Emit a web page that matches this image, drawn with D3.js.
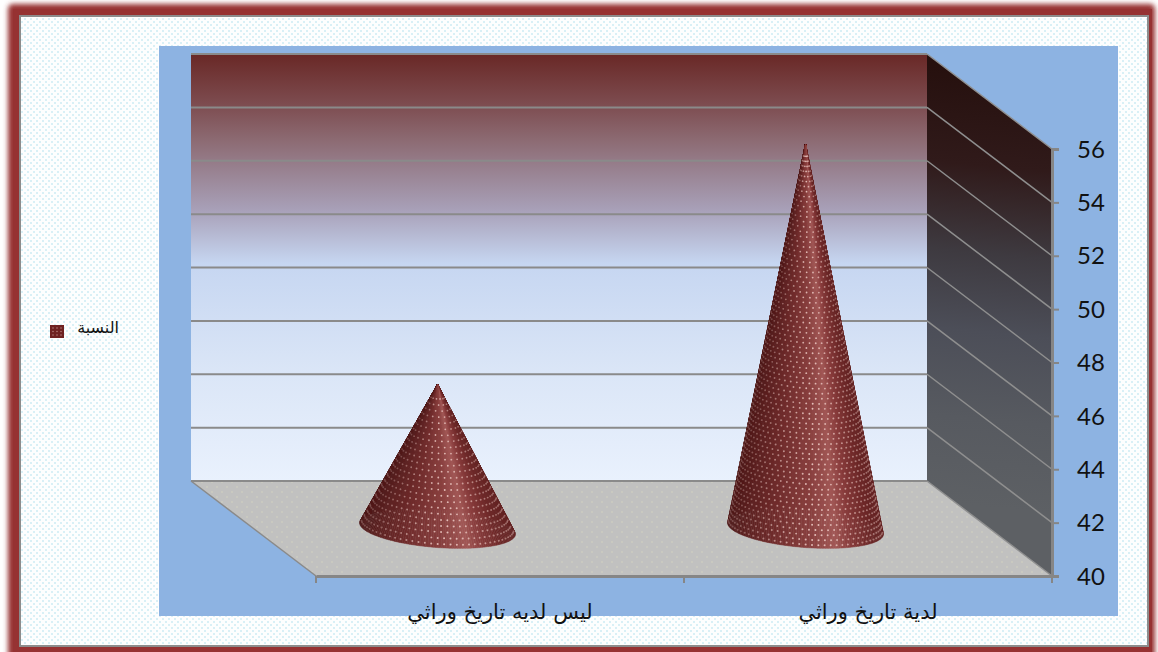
<!DOCTYPE html>
<html lang="ar">
<head>
<meta charset="utf-8">
<script src="https://cdn.jsdelivr.net/npm/d3@7/dist/d3.min.js"></script>
<style>
  html, body { margin: 0; padding: 0; background: #fff; overflow: hidden; }
  svg { display: block; }
  text { font-family: "DejaVu Sans", sans-serif; }
</style>
</head>
<body>
<svg id="chart" width="1158" height="652"></svg>
<script>
// Chart content
const categories = ["ليس لديه تاريخ وراثي", "لدية تاريخ وراثي"];
const shareValues = [45.4, 54.4];
const seriesName = "النسبة";
const axisTicks = [40, 42, 44, 46, 48, 50, 52, 54, 56];

const svg = d3.select("#chart");
const defs = svg.append("defs");

// Scales: a value axis, a category axis on the front edge, and a depth axis
const yScale = d3.scaleLinear().domain([40, 56]).range([576, 149]);
const xScale = d3.scaleBand().domain(categories).range([316, 1052]);
const depthX = d3.scaleLinear().domain([0, 1]).range([0, -125]);
const depthY = d3.scaleLinear().domain([0, 1]).range([0, -95]);

const xLeft = xScale.range()[0], xRight = xScale.range()[1];
const baseValue = yScale.domain()[0], topValue = yScale.domain()[1];

// Oblique projection of (front-edge x, value, depth) to the screen
const project = (x, v, d) => [x + depthX(d), yScale(v) + depthY(d)];
const poly = pts => pts.map(p => p.join(",")).join(" ");

// Paints and filters
const dotted = defs.append("pattern").attr("id", "paper")
  .attr("width", 6).attr("height", 6).attr("patternUnits", "userSpaceOnUse");
dotted.append("rect").attr("width", 6).attr("height", 6).attr("fill", "#fdfefe");
dotted.append("rect").attr("x", 0).attr("y", 0).attr("width", 2).attr("height", 2).attr("fill", "#d9f0f6");
dotted.append("rect").attr("x", 3).attr("y", 3).attr("width", 2).attr("height", 2).attr("fill", "#d9f0f6");

const floorDots = defs.append("pattern").attr("id", "floorDots")
  .attr("width", 10).attr("height", 10).attr("patternUnits", "userSpaceOnUse");
floorDots.append("rect").attr("width", 10).attr("height", 10).attr("fill", "#c1c1c0");
floorDots.append("rect").attr("x", 1).attr("y", 1).attr("width", 2).attr("height", 2).attr("fill", "#c9c9c0");
floorDots.append("rect").attr("x", 6).attr("y", 6).attr("width", 2).attr("height", 2).attr("fill", "#c9c9c0");

const wallGrad = defs.append("linearGradient").attr("id", "backWall")
  .attr("x1", 0).attr("y1", 0).attr("x2", 0).attr("y2", 1);
[[0, "#692826"], [0.124, "#7e4e52"], [0.2, "#8c6a72"], [0.365, "#a8a0b8"], [0.49, "#c6d6f1"], [0.75, "#dbe6f7"], [1, "#e9f1fd"]]
  .forEach(([o, c]) => wallGrad.append("stop").attr("offset", o).attr("stop-color", c));

// The side wall darkens toward its upper edge, with contours nearly level
const sideFrom = project(xRight - 20, 55, 0.5), sideTo = project(xRight - 60, 41, 0.5);
const sideGrad = defs.append("linearGradient").attr("id", "sideWall")
  .attr("gradientUnits", "userSpaceOnUse")
  .attr("x1", sideFrom[0]).attr("y1", sideFrom[1] - 60).attr("x2", sideTo[0]).attr("y2", sideTo[1]);
[[0, "#26100e"], [0.22, "#301a1a"], [0.42, "#3e3a40"], [0.6, "#4c4e58"], [0.8, "#575a60"], [1, "#5d6064"]]
  .forEach(([o, c]) => sideGrad.append("stop").attr("offset", o).attr("stop-color", c));

defs.append("filter").attr("id", "frameGlow").attr("x", "-3%").attr("y", "-5%").attr("width", "106%").attr("height", "110%")
  .append("feGaussianBlur").attr("stdDeviation", 2.6);
defs.append("filter").attr("id", "soft").attr("x", "-5%").attr("y", "-5%").attr("width", "110%").attr("height", "110%")
  .append("feGaussianBlur").attr("stdDeviation", 0.45);

// Picture frame: a blurred red mat under the paper panel
svg.append("rect").attr("x", 8).attr("y", 4).attr("width", 1147).attr("height", 670)
  .attr("rx", 5).attr("fill", "#963232").attr("filter", "url(#frameGlow)");
svg.append("rect").attr("x", 13).attr("y", 9).attr("width", 1139).attr("height", 660).attr("fill", "#963232");
svg.append("rect").attr("x", 20).attr("y", 16).attr("width", 1128).attr("height", 630)
  .attr("fill", "url(#paper)").attr("stroke", "#8c8c8c").attr("stroke-width", 2);

// Plot area
svg.append("rect").attr("x", 159).attr("y", 46).attr("width", 959).attr("height", 570).attr("fill", "#8db3e2");

// Walls and floor
svg.append("polygon").attr("fill", "url(#backWall)")
  .attr("points", poly([project(xLeft, topValue, 1), project(xRight, topValue, 1), project(xRight, baseValue, 1), project(xLeft, baseValue, 1)]));
svg.append("polygon").attr("fill", "url(#sideWall)")
  .attr("points", poly([project(xRight, topValue, 1), project(xRight, topValue, 0), project(xRight, baseValue, 0), project(xRight, baseValue, 1)]));
svg.append("polygon").attr("fill", "url(#floorDots)")
  .attr("points", poly([project(xLeft, baseValue, 1), project(xRight, baseValue, 1), project(xRight, baseValue, 0), project(xLeft, baseValue, 0)]));

// Gridlines run along the back wall and down the side wall
axisTicks.forEach(t => {
  const [bx0, by] = project(xLeft, t, 1), [bx1] = project(xRight, t, 1), [fx, fy] = project(xRight, t, 0);
  svg.append("line").attr("x1", bx0).attr("y1", by).attr("x2", bx1).attr("y2", by)
    .attr("stroke", "#8a8a8a").attr("stroke-width", 2);
  svg.append("line").attr("x1", bx1).attr("y1", by).attr("x2", fx).attr("y2", fy)
    .attr("stroke", "#8f8f8f").attr("stroke-width", 1.5);
});

// Wall edges
const edge = (a, b, w) => svg.append("line").attr("x1", a[0]).attr("y1", a[1]).attr("x2", b[0]).attr("y2", b[1])
  .attr("stroke", "#8a8a8a").attr("stroke-width", w);
edge(project(xLeft, baseValue, 1), project(xLeft, baseValue, 0), 1.5);

// Cones stand halfway into the depth of the floor
const shade = d3.scaleLinear()
  .domain([-1, -0.75, -0.3, 0.1, 0.4, 0.6, 0.85, 1])
  .range(["#4e1a1a", "#5e2222", "#753030", "#8a4140", "#a25856", "#863a3a", "#6c2828", "#642424"])
  .interpolate(d3.interpolateRgb);

const RX = 78, RY = 19, TILT = 4.4 * Math.PI / 180;

function drawCone(cat, value) {
  const cx = xScale(cat) + xScale.bandwidth() / 2;
  const [bx, by] = project(cx, baseValue, 0.5);
  const [ax, ay] = project(cx, value, 0.5);
  const g = svg.append("g").attr("filter", "url(#soft)");

  // Point on the base rim at angle th, scaled toward the apex by fraction t
  const rim = th => {
    const ex = RX * Math.cos(th), ey = RY * Math.sin(th);
    return [bx + ex * Math.cos(TILT) - ey * Math.sin(TILT), by + ex * Math.sin(TILT) + ey * Math.cos(TILT)];
  };
  const surface = (th, t) => {
    const p = rim(th);
    return [ax + (p[0] - ax) * t, ay + (p[1] - ay) * t];
  };

  // Facets, furthest round the back first
  const facets = d3.range(0, 180).map(i => i * Math.PI / 90).sort((a, b) => Math.sin(a) - Math.sin(b));
  const step = Math.PI / 90;
  facets.forEach(th => {
    const col = shade(Math.cos(th + step / 2));
    g.append("polygon").attr("points", poly([[ax, ay], rim(th), rim(th + step)]))
      .attr("fill", col).attr("stroke", col).attr("stroke-width", 0.5);
  });

  // Rows of light dots follow the rim; fewer per row as the cone narrows
  const height = by - ay;
  const rowGap = height > 250 ? 4.8 : 5.4;
  const rows = Math.round(height / rowGap);
  const dots = g.append("g").attr("fill", "#f4d4ce");
  d3.range(3, rows + 1).forEach(r => {
    const t = (r - 0.6) / rows;
    const count = Math.max(6, Math.round(38 * t));
    d3.range(count).forEach(j => {
      const th = ((j + (r % 2 ? 0.25 : 0.75)) / count) * Math.PI;
      const u = Math.cos(th);
      const [x, y] = surface(th, t);
      dots.append("circle").attr("cx", x).attr("cy", y)
        .attr("r", 0.85 + 0.15 * t)
        .attr("opacity", 0.25 + 0.6 * Math.max(0, 1 - Math.abs(u - 0.15) / 1.1));
    });
  });
}
categories.forEach((c, i) => drawCone(c, shareValues[i]));

// Value axis on the right front edge
const yAxis = svg.append("g").attr("transform", `translate(${xRight},0)`)
  .call(d3.axisRight(yScale).tickValues(axisTicks).tickSize(7).tickPadding(18).tickFormat(d3.format("d")));
yAxis.selectAll("path").attr("stroke", "#868686").attr("stroke-width", 3);
yAxis.selectAll("line").attr("stroke", "#868686").attr("stroke-width", 2);
yAxis.selectAll("text").attr("fill", "#111").attr("dy", "0.34em")
  .style("font-family", "Lato, sans-serif").style("font-size", "24px");

// Category axis on the front edge of the floor
const xAxis = svg.append("g").attr("transform", `translate(0,${yScale(baseValue)})`)
  .call(d3.axisBottom(xScale).tickSize(0).tickPadding(0));
xAxis.selectAll("path").attr("stroke", "#868686").attr("stroke-width", 3);
xAxis.selectAll("line").remove();
xAxis.selectAll("text").attr("dy", null).attr("y", 43).attr("fill", "#111")
  .style("font-family", "'DejaVu Sans', sans-serif").style("font-size", "21px").attr("direction", "rtl");
[xLeft, xScale(categories[1]), xRight].forEach(x => {
  xAxis.append("line").attr("x1", x).attr("x2", x).attr("y1", 0).attr("y2", 7)
    .attr("stroke", "#868686").attr("stroke-width", 2);
});

// Legend
svg.append("rect").attr("x", 50).attr("y", 325).attr("width", 14).attr("height", 13).attr("fill", "#6e2222");
d3.range(3).forEach(i => d3.range(3).forEach(j => {
  svg.append("circle").attr("cx", 53 + i * 4).attr("cy", 328 + j * 3.5).attr("r", 0.8).attr("fill", "#b07a78");
}));
svg.append("text").attr("x", 119).attr("y", 333).attr("text-anchor", "start").attr("direction", "rtl")
  .attr("fill", "#111").style("font-size", "16px").text(seriesName);
</script>
</body>
</html>
